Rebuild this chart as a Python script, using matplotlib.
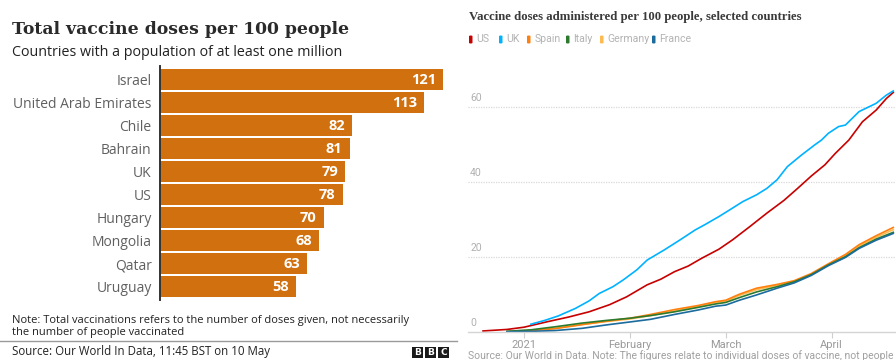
import matplotlib
matplotlib.use("Agg")
import matplotlib.pyplot as plt
import matplotlib.dates as mdates
from matplotlib.patches import Rectangle, FancyBboxPatch
import pandas as pd

# ---------------- data: left bar chart ----------------
countries = ["Israel", "United Arab Emirates", "Chile", "Bahrain", "UK", "US",
             "Hungary", "Mongolia", "Qatar", "Uruguay"]
doses = [121, 113, 82, 81, 79, 78, 70, 68, 63, 58]

# ---------------- data: right line chart ----------------
us_dates = ["2020-12-20", "2020-12-27", "2021-01-01", "2021-01-08", "2021-01-14", "2021-01-20",
            "2021-01-26", "2021-01-31", "2021-02-06", "2021-02-10", "2021-02-14", "2021-02-18",
            "2021-02-22", "2021-02-27", "2021-03-03", "2021-03-08", "2021-03-13", "2021-03-18",
            "2021-03-22", "2021-03-26", "2021-03-30", "2021-04-02", "2021-04-06", "2021-04-10",
            "2021-04-14", "2021-04-17", "2021-04-19"]
us_vals = [0.2, 0.6, 1.2, 2.7, 3.9, 5.3, 7.2, 9.3, 12.5, 14.0, 16.0, 17.5, 19.6, 22.0, 24.5,
           28.0, 31.6, 35.0, 38.2, 41.5, 44.5, 47.5, 51.1, 56.0, 59.1, 62.2, 63.8]

uk_dates = ["2021-01-03", "2021-01-07", "2021-01-11", "2021-01-16", "2021-01-20", "2021-01-23",
            "2021-01-27", "2021-01-30", "2021-02-03", "2021-02-06", "2021-02-11", "2021-02-16",
            "2021-02-20", "2021-02-23", "2021-02-27", "2021-03-02", "2021-03-06", "2021-03-10",
            "2021-03-13", "2021-03-16", "2021-03-19", "2021-03-23", "2021-03-27", "2021-03-29",
            "2021-03-31", "2021-04-03", "2021-04-05", "2021-04-09", "2021-04-14", "2021-04-17",
            "2021-04-19"]
uk_vals = [2.0, 3.0, 4.2, 6.2, 8.2, 10.2, 12.0, 13.8, 16.5, 19.1, 21.8, 24.7, 27.1, 28.6, 30.7,
           32.4, 34.7, 36.5, 38.2, 40.5, 44.0, 47.0, 49.8, 51.1, 52.9, 54.7, 55.1, 58.7, 60.9,
           63.1, 64.2]

eu_dates = ["2020-12-27", "2021-01-03", "2021-01-10", "2021-01-18", "2021-01-25", "2021-02-01",
            "2021-02-07", "2021-02-14", "2021-02-21", "2021-02-26", "2021-03-01", "2021-03-05",
            "2021-03-10", "2021-03-16", "2021-03-21", "2021-03-26", "2021-03-31", "2021-04-05",
            "2021-04-09", "2021-04-14", "2021-04-19"]
spain_vals = [0.0, 0.3, 0.8, 1.9, 2.8, 3.6, 4.6, 5.9, 7.0, 8.0, 8.4, 10.0, 11.6, 12.6, 13.6,
              15.5, 18.1, 20.6, 23.2, 25.6, 27.8]
italy_vals = [0.1, 0.5, 1.3, 2.3, 3.0, 3.6, 4.3, 5.3, 6.5, 7.4, 7.8, 9.1, 10.6, 12.0, 13.3,
              15.2, 17.8, 20.0, 22.4, 24.7, 26.5]
germany_vals = [0.1, 0.4, 0.9, 1.9, 2.7, 3.4, 4.3, 5.5, 6.8, 7.8, 8.1, 9.7, 11.2, 12.4, 13.4,
                15.3, 17.9, 20.3, 22.8, 25.2, 27.2]
france_vals = [0.0, 0.1, 0.3, 0.9, 1.8, 2.6, 3.3, 4.6, 5.8, 6.8, 7.1, 8.4, 9.8, 11.6, 13.0,
               15.0, 17.6, 19.8, 22.2, 24.4, 26.2]

series_names = ["US", "UK", "Spain", "Italy", "Germany", "France"]
series_colors = ["#c70000", "#00b2ff", "#ff7f0f", "#2c7a2e", "#ffbb50", "#1b6b9c"]
y_ticks = [0, 20, 40, 60]
x_tick_dates = ["2021-01-01", "2021-02-01", "2021-03-01", "2021-04-01"]
x_tick_labels = ["2021", "February", "March", "April"]

W, H = 896, 360
fig = plt.figure(figsize=(W / 100, H / 100), dpi=100)
fig.patch.set_facecolor("white")


def fx(px):
    return px / W


def fy(py):
    return 1 - py / H


# ================= LEFT PANEL =================
SANS = ["Open Sans", "DejaVu Sans"]
fig.text(fx(12), fy(29), "Total vaccine doses per 100 people", family="DejaVu Serif",
         fontweight="bold", fontsize=12.4, color="#2a2a2a", va="center", ha="left")
fig.text(fx(12), fy(52), "Countries with a population of at least one million", family=SANS,
         fontsize=10.3, color="#222222", va="center", ha="left")

axL = fig.add_axes([fx(160), fy(300), (445 - 160) / W, (300 - 66) / H])
ypos = list(range(len(countries)))
axL.barh(ypos, doses, height=0.89, color="#d1700f", edgecolor="none")
axL.set_ylim(9.58, -0.59)
axL.set_xlim(0, 285 / 2.34)
for sp in ["top", "right", "bottom"]:
    axL.spines[sp].set_visible(False)
axL.spines["left"].set_color("#333333")
axL.spines["left"].set_linewidth(1.4)
axL.set_xticks([])
axL.set_yticks(ypos)
axL.set_yticklabels(countries, family=SANS, fontsize=10, color="#606060")
axL.tick_params(axis="y", length=0, pad=6)
for y, v in zip(ypos, doses):
    axL.annotate(str(v), (v, y), xytext=(-5, 0), textcoords="offset points",
                 ha="right", va="center", color="white", fontsize=10.5,
                 fontweight="bold", family=SANS)

fig.text(fx(12), fy(320), "Note: Total vaccinations refers to the number of doses given, not necessarily",
         family=SANS, fontsize=8.0, color="#222222", va="center", ha="left")
fig.text(fx(12), fy(332), "the number of people vaccinated",
         family=SANS, fontsize=8.0, color="#222222", va="center", ha="left")
fig.add_artist(plt.Line2D([fx(0), fx(457)], [fy(340.5), fy(340.5)], color="#9a9a9a", lw=1.0))
fig.text(fx(12), fy(351.5), "Source: Our World In Data, 11:45 BST on 10 May",
         family=SANS, fontsize=8.3, color="#222222", va="center", ha="left")
for i, letter in enumerate("BBC"):
    x0 = 412 + i * 13
    fig.add_artist(Rectangle((fx(x0), fy(358)), 11 / W, 11 / H, facecolor="#1a1a1a",
                             edgecolor="none", transform=fig.transFigure))
    fig.text(fx(x0 + 5.5), fy(352.5), letter, family="DejaVu Sans", fontweight="bold",
             fontsize=6.5, color="white", ha="center", va="center")

# ================= RIGHT PANEL =================
fig.text(fx(469), fy(17), "Vaccine doses administered per 100 people, selected countries",
         family="Liberation Serif", fontweight="bold", fontsize=9.2, color="#3a3a3a",
         va="center", ha="left")

legend_x = [469, 499, 527, 566, 600, 652]
for name, col, lx in zip(series_names, series_colors, legend_x):
    fig.add_artist(FancyBboxPatch((fx(lx), fy(43.5)), 3.5 / W, 8 / H,
                                  boxstyle="round,pad=0,rounding_size=0.002",
                                  facecolor=col, edgecolor="none", transform=fig.transFigure))
    fig.text(fx(lx + 7.5), fy(39.5), name, family=["Roboto", "DejaVu Sans"], fontsize=7.6,
             color="#b3b3b3", va="center", ha="left")

bottom_px, top_px = 331.7, 80
axR = fig.add_axes([fx(468), fy(bottom_px), (W - 468) / W, (bottom_px - top_px) / H])
d0 = pd.Timestamp("2021-01-01")
axR.set_xlim(mdates.date2num(d0 + pd.Timedelta(days=-16.4)),
             mdates.date2num(d0 + pd.Timedelta(days=108.8)))
axR.set_ylim(0, (bottom_px - top_px) / 3.75)

for sp in ["top", "right", "left"]:
    axR.spines[sp].set_visible(False)
axR.spines["bottom"].set_color("#d4d4d4")
axR.spines["bottom"].set_linewidth(1.0)

for t in y_ticks[1:]:
    axR.axhline(t, color="#d9d9d9", lw=0.9, ls=(0, (1, 1)), zorder=0)
for t in y_ticks:
    axR.text(0.005, t + 2.2, str(t), transform=axR.get_yaxis_transform(),
             family=["Roboto", "DejaVu Sans"], fontsize=7.5, color="#b0b0b0",
             ha="left", va="center")
axR.set_yticks([])

axR.set_xticks([mdates.date2num(pd.Timestamp(d)) for d in x_tick_dates])
axR.set_xticklabels(x_tick_labels, family=["Roboto", "DejaVu Sans"], fontsize=8, color="#9a9a9a")
axR.tick_params(axis="x", length=4, color="#cfcfcf", width=0.8, pad=2)

all_series = [
    (us_dates, us_vals), (uk_dates, uk_vals), (eu_dates, spain_vals),
    (eu_dates, italy_vals), (eu_dates, germany_vals), (eu_dates, france_vals),
]
order = [0, 1, 4, 2, 3, 5]
for i in order:
    ds, vs = all_series[i]
    axR.plot(pd.to_datetime(ds), vs, color=series_colors[i], lw=1.2,
             solid_joinstyle="round", clip_on=False)

fig.text(fx(468), fy(356), "Source: Our World in Data. Note: The figures relate to individual doses "
         "of vaccine, not people vaccinated. Since the", family=["Roboto", "DejaVu Sans"],
         fontsize=7.5, color="#a0a0a0", ha="left", va="center")

fig.savefig("out.png", dpi=100)
